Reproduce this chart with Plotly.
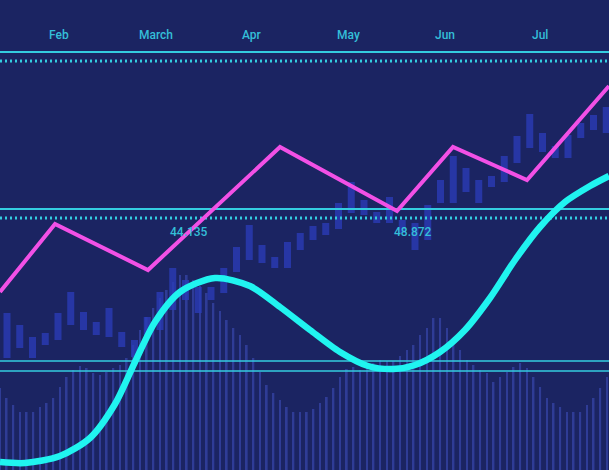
import numpy as np
import plotly.graph_objects as go

# ---------------- data ----------------
# x axis in "day" units (0..609), y axis in value units (0..470)
months = ["Feb", "March", "Apr", "May", "Jun", "Jul"]
month_day = [59, 156, 252, 348, 445, 540]

candle_day = list(np.arange(48) * 12.75 + 7)
candle_low = [112, 122, 112, 125, 130, 145, 140, 135, 133, 123, 113, 135,
              140, 160, 170, 157, 170, 177, 198, 210, 207, 202, 202, 220,
              230, 235, 241, 257, 255, 247, 247, 237, 220, 230, 267, 267,
              278, 267, 283, 288, 307, 322, 318, 312, 312, 332, 340, 337]
candle_high = [157, 145, 133, 137, 157, 178, 158, 148, 162, 138, 130, 153,
               178, 202, 190, 183, 183, 202, 223, 245, 225, 213, 228, 237,
               244, 247, 267, 288, 270, 258, 273, 250, 247, 265, 290, 314,
               302, 290, 294, 314, 334, 356, 337, 324, 335, 347, 355, 363]

volume_day = list(np.arange(92) * 6.67)
volume = [82, 72, 65, 58, 58, 58, 63, 67, 72, 83, 93, 100, 104, 102, 97, 95,
          98, 102, 105, 112, 125, 140, 153, 162, 172, 180, 188, 195, 195, 190,
          184, 177, 167, 159, 150, 142, 135, 125, 112, 98, 85, 77, 70, 63, 58,
          58, 58, 61, 67, 73, 82, 93, 101, 103, 100, 102, 107, 110, 109, 109,
          114, 120, 125, 135, 142, 152, 152, 142, 125, 120, 110, 105, 100, 97,
          88, 93, 98, 103, 107, 102, 93, 83, 72, 67, 63, 58, 58, 58, 65, 72,
          82, 93]

trend_day = [0, 55, 148, 280, 397, 453, 527, 609]
trend_val = [178, 246, 200, 323, 259, 323, 290, 384]

wave_day = [0, 25, 60, 90, 115, 135, 155, 180, 215, 250, 280, 310, 340, 368,
            393, 415, 440, 465, 490, 515, 540, 565, 590, 609]
wave_val = [8, 7, 14, 32, 66, 108, 148, 178, 192, 184, 163, 140, 118, 104,
            101, 105, 118, 140, 172, 210, 243, 268, 284, 294]

solid_levels = [418, 261]
dotted_levels = [409, 252]
band_levels = [109, 99]

value_labels = ["44.135", "48.872"]
value_label_day = [189, 413]
value_label_val = [238, 238]

# ---------------- styles ----------------
BG = "#1b2462"
CANDLE = "#2b3cb8"
VOL = "#3a4ab2"
CYAN = "#20f4f0"
MAGENTA = "#f250e6"
LEVEL = "#34cde0"
TEXT = "#34bfd8"

fig = go.Figure()

fig.add_trace(go.Bar(x=volume_day, y=volume, width=1.7,
                     marker=dict(color=VOL, line=dict(width=0)),
                     opacity=0.65, hoverinfo="skip"))

fig.add_trace(go.Bar(x=candle_day,
                     y=[h - l for h, l in zip(candle_high, candle_low)],
                     base=candle_low, width=7,
                     marker=dict(color=CANDLE, line=dict(width=0)),
                     opacity=0.78, hoverinfo="skip"))

for lv in solid_levels:
    fig.add_trace(go.Scatter(x=[0, 609], y=[lv, lv], mode="lines",
                             line=dict(color=LEVEL, width=2.2), hoverinfo="skip"))
for lv in dotted_levels:
    fig.add_trace(go.Scatter(x=[0, 609], y=[lv, lv], mode="lines",
                             line=dict(color=LEVEL, width=3, dash="2px,3px"),
                             hoverinfo="skip"))
for lv in band_levels:
    fig.add_trace(go.Scatter(x=[0, 609], y=[lv, lv], mode="lines",
                             line=dict(color=LEVEL, width=1.6), hoverinfo="skip"))

fig.add_trace(go.Scatter(x=trend_day, y=trend_val, mode="lines",
                         line=dict(color=MAGENTA, width=4), hoverinfo="skip"))

fig.add_trace(go.Scatter(x=wave_day, y=wave_val, mode="lines",
                         line=dict(color=CYAN, width=6.5, shape="spline", smoothing=0.8),
                         hoverinfo="skip"))

annotations = []
for m, d in zip(months, month_day):
    annotations.append(dict(x=d, y=435, text=m, showarrow=False,
                            font=dict(family="Roboto", size=12, color=TEXT, weight=500)))
for t, d, v in zip(value_labels, value_label_day, value_label_val):
    annotations.append(dict(x=d, y=v, text=t, showarrow=False,
                            font=dict(family="Roboto", size=12, color=TEXT, weight=500)))

fig.update_layout(
    width=609, height=470,
    margin=dict(l=0, r=0, t=0, b=0),
    paper_bgcolor=BG, plot_bgcolor=BG,
    showlegend=False, barmode="overlay",
    xaxis=dict(range=[0, 609], visible=False, fixedrange=True),
    yaxis=dict(range=[0, 470], visible=False, fixedrange=True),
    annotations=annotations,
)

fig.write_html("out.html", config={"displayModeBar": False},
               post_script="document.body.style.margin='0';"
                           "document.body.style.background='#1b2462';")
